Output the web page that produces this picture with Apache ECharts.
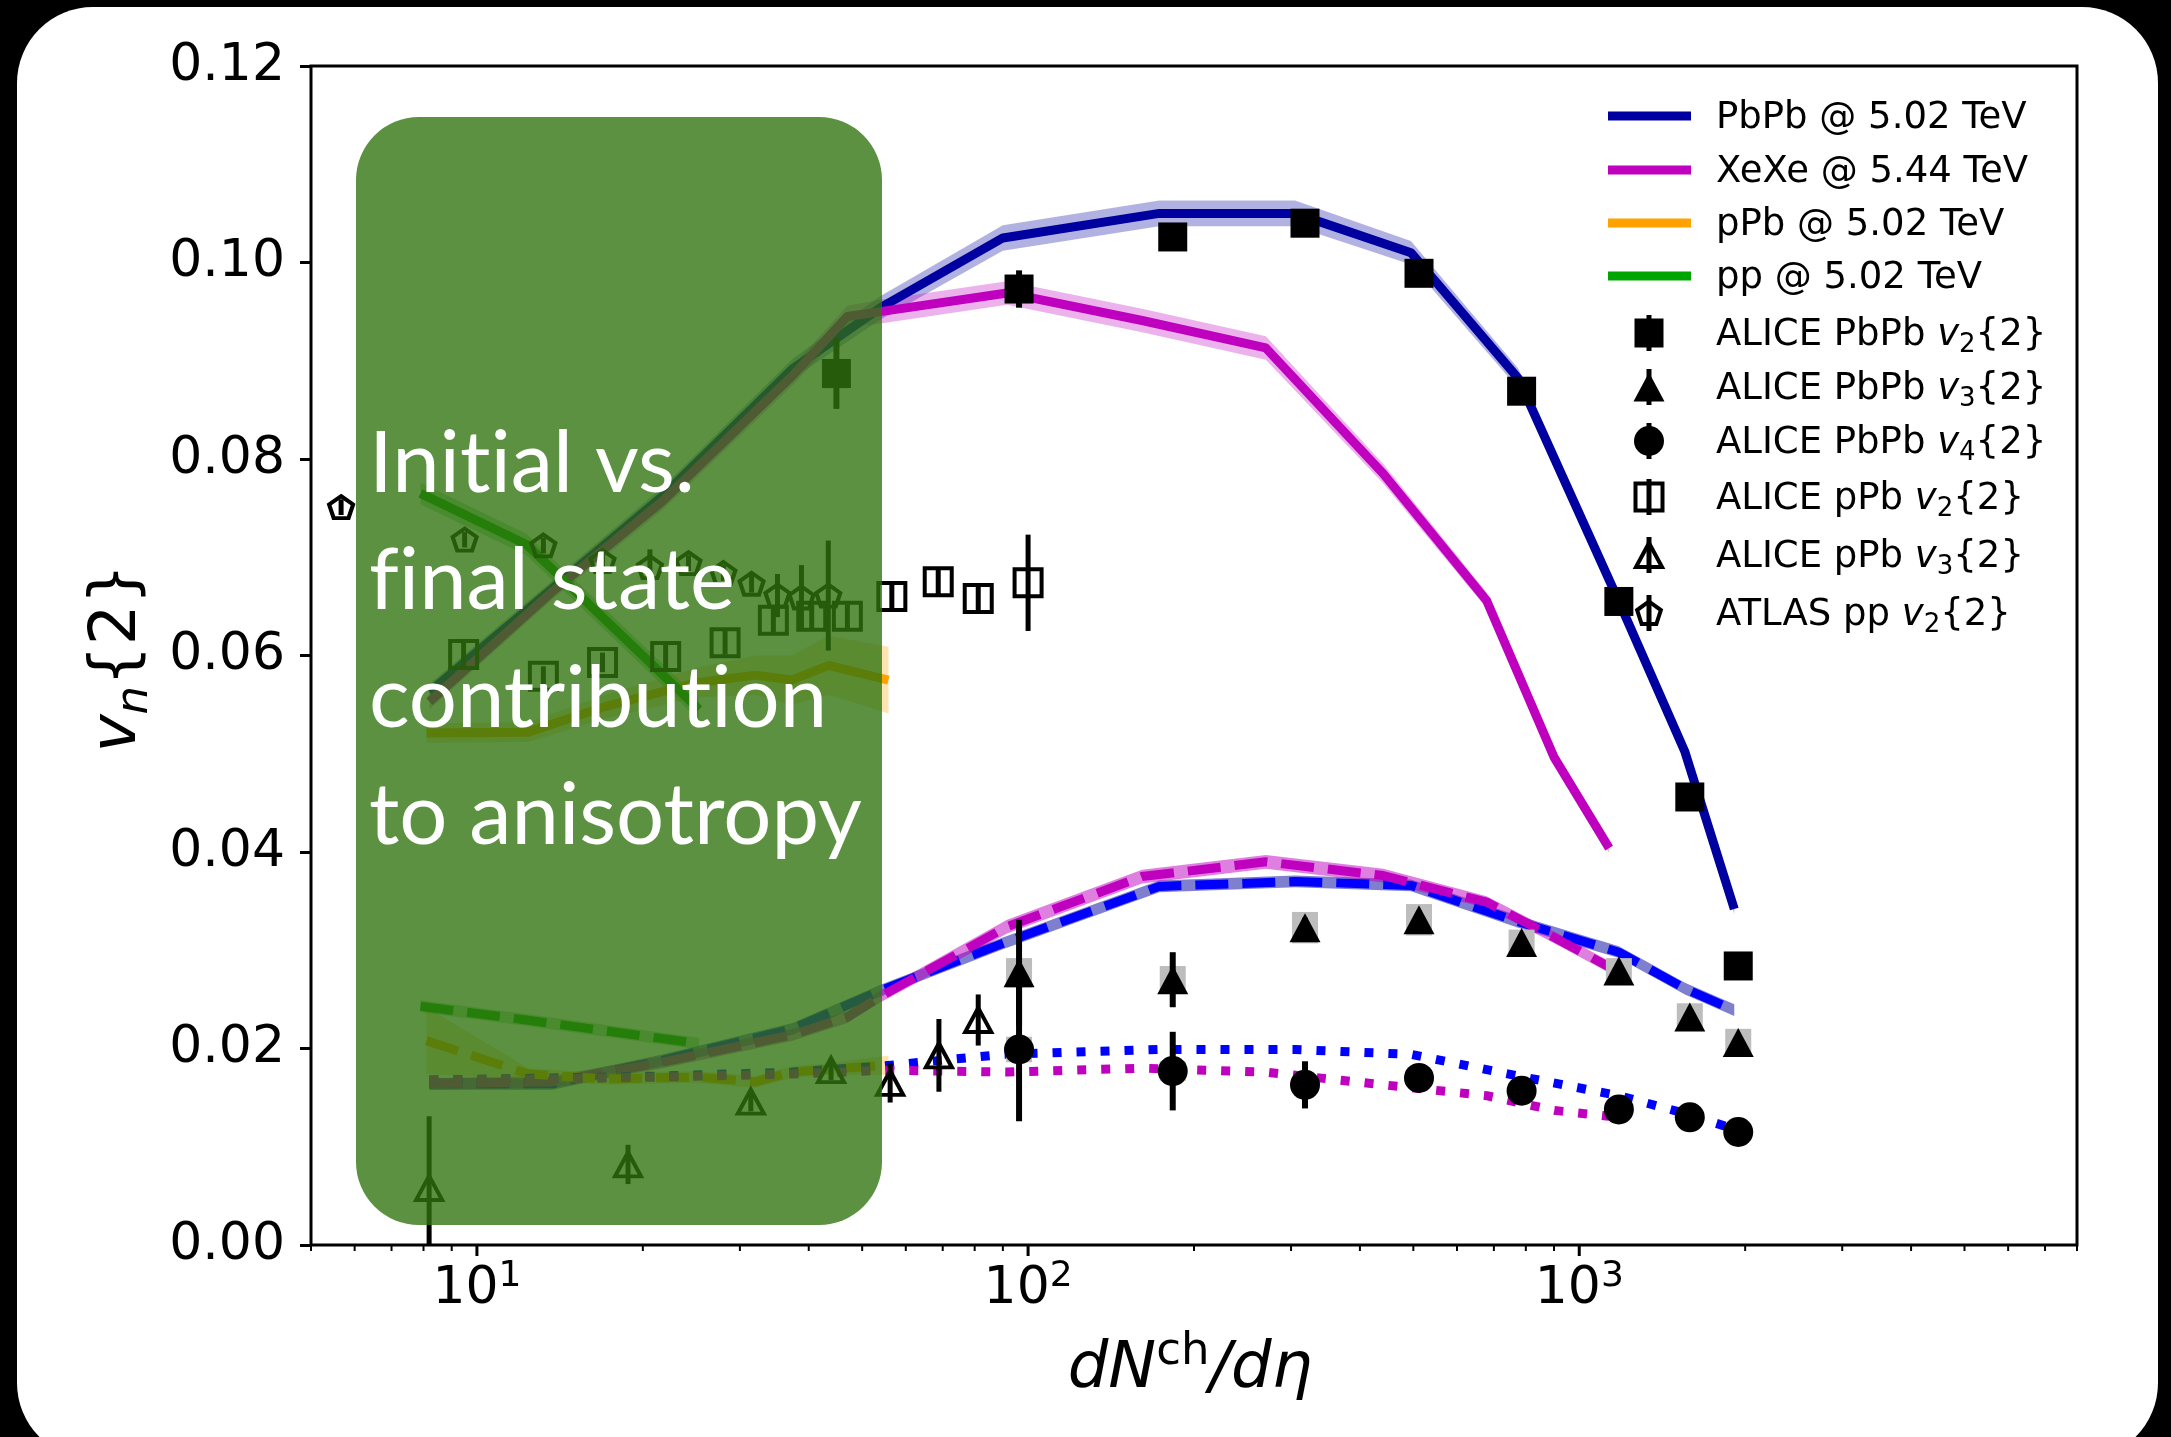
<!DOCTYPE html>
<html>
<head>
<meta charset="utf-8">
<title>Flow harmonics vs multiplicity</title>
<script src="https://cdn.jsdelivr.net/npm/echarts@6/dist/echarts.min.js"></script>
<style>
  html, body { margin: 0; padding: 0; background: #000; width: 2171px; height: 1437px; overflow: hidden; }
  #card { position: absolute; left: 17px; top: 7px; width: 2141px; height: 1452px; background: #fff; border-radius: 76px; }
  #chart { position: absolute; left: 0; top: 0; width: 2171px; height: 1437px; }
</style>
</head>
<body>
<div id="card"></div>
<div id="chart"></div>
<script>
// ---------------- axis ticks ----------------
const xMajorTicks = [10, 100, 1000];
const xMajorExponents = ['1', '2', '3'];
const xMinorTicks = [5, 6, 7, 8, 9, 20, 30, 40, 50, 60, 70, 80, 90,
  200, 300, 400, 500, 600, 700, 800, 900, 2000, 3000, 4000, 5000, 6000, 7000, 8000];

// ---------------- model curves ----------------
const pbpbModelX = [8.2, 13.7, 21.7, 37.4, 54, 90, 173, 305, 495, 775, 1180, 1555, 1911];
const pbpbModelV2 = [0.0563, 0.0668, 0.0762, 0.0892, 0.0954, 0.1025, 0.1050, 0.1050, 0.1010, 0.0882, 0.0655, 0.0502, 0.0342];
const pbpbModelV2Band = [0.0008, 0.0008, 0.0009, 0.0010, 0.0012, 0.0013, 0.0013, 0.0013, 0.0012, 0.0010, 0.0008, 0.0006, 0.0005];
const pbpbModelV3 = [0.0164, 0.0164, 0.0188, 0.0220, 0.0259, 0.0307, 0.0365, 0.0370, 0.0366, 0.0329, 0.0298, 0.0261, 0.0239];
const pbpbModelV3Band = [0.0006, 0.0006, 0.0006, 0.0006, 0.0006, 0.0006, 0.0006, 0.0006, 0.0006, 0.0006, 0.0006, 0.0006, 0.0006];
const pbpbModelV4 = [0.0168, 0.0170, 0.0172, 0.0176, 0.0182, 0.0194, 0.0199, 0.0199, 0.0194, 0.0172, 0.0152, 0.0134, 0.0118];

const xexeModelX = [8.2, 13.7, 21.7, 37.4, 47, 54, 91.6, 161, 270, 441, 679, 901, 1133];
const xexeModelV2 = [0.0553, 0.0665, 0.0757, 0.0885, 0.0945, 0.0950, 0.0969, 0.0941, 0.0913, 0.0785, 0.0656, 0.0496, 0.0404];
const xexeModelV2Band = [0.0008, 0.0008, 0.0009, 0.0010, 0.0011, 0.0012, 0.0012, 0.0012, 0.0012, 0.0010, 0.0008, 0.0006, 0.0005];
const xexeModelV3 = [0.0164, 0.0166, 0.0186, 0.0214, 0.0232, 0.0253, 0.0324, 0.0375, 0.0390, 0.0376, 0.0349, 0.0313, 0.0283];
const xexeModelV3Band = [0.0006, 0.0006, 0.0006, 0.0006, 0.0006, 0.0006, 0.0007, 0.0007, 0.0007, 0.0007, 0.0006, 0.0006, 0.0006];
const xexeModelV4 = [0.0168, 0.0169, 0.0171, 0.0174, 0.0176, 0.0178, 0.0176, 0.0180, 0.0176, 0.0163, 0.0152, 0.0137, 0.0131];

const ppbModelX = [8.1, 12.4, 17.1, 24.9, 32, 37.2, 43.5, 55.8];
const ppbModelV2 = [0.0521, 0.0522, 0.0548, 0.0572, 0.0580, 0.0575, 0.0590, 0.0575];
const ppbModelV2Band = [0.0010, 0.0010, 0.0012, 0.0015, 0.0020, 0.0025, 0.0030, 0.0034];
const ppbModelV3 = [0.0208, 0.0174, 0.0169, 0.0171, 0.0166, 0.0176, 0.0179, 0.0183];
const ppbModelV3Band = [0.0034, 0.0006, 0.0006, 0.0006, 0.0006, 0.0006, 0.0006, 0.0010];

const ppModelX = [7.9, 12.3, 25.3];
const ppModelV2 = [0.0765, 0.0713, 0.0545];
const ppModelV2Band = [0.0011, 0.0011, 0.0011];
const ppModelV3 = [0.0243, 0.0229, 0.0205];
const ppModelV3Band = [0.0006, 0.0006, 0.0006];

// ---------------- measurements ----------------
const alicePbPbV2X = [44.9, 96.3, 183, 318, 512, 786, 1180, 1587, 1943];
const alicePbPbV2 = [0.0887, 0.0973, 0.1026, 0.1040, 0.0989, 0.0869, 0.0655, 0.0456, 0.0284];
const alicePbPbV2Err = [0.0036, 0.0019, 0.0008, 0.0006, 0.0006, 0.0006, 0.0006, 0.0006, 0.0006];
const alicePbPbV2Sys = [0.0015, 0.0012, 0.0010, 0.0010, 0.0009, 0.0008, 0.0007, 0.0006, 0.0005];

const alicePbPbHighX = [96.3, 183, 318, 512, 786, 1180, 1587, 1943];
const alicePbPbV3 = [0.0277, 0.0270, 0.0323, 0.0331, 0.0308, 0.0279, 0.0232, 0.0206];
const alicePbPbV3Err = [0.0054, 0.0028, 0.0010, 0.0006, 0.0005, 0.0004, 0.0004, 0.0004];
const alicePbPbV3Sys = [0.0015, 0.0014, 0.0016, 0.0016, 0.0013, 0.0013, 0.0014, 0.0014];
const alicePbPbV4 = [0.0199, 0.0177, 0.0163, 0.0170, 0.0157, 0.0138, 0.0130, 0.0115];
const alicePbPbV4Err = [0.0073, 0.0040, 0.0024, 0.0006, 0.0005, 0.0004, 0.0004, 0.0004];
const alicePbPbV4Sys = [0.0013, 0.0010, 0.0008, 0.0006, 0.0005, 0.0005, 0.0005, 0.0005];

const alicePPbV2X = [9.46, 13.2, 16.9, 22.0, 28.2, 34.5, 40.5, 47.0, 56.6, 68.7, 81.2, 100];
const alicePPbV2 = [0.0601, 0.0579, 0.0593, 0.0599, 0.0613, 0.0636, 0.0640, 0.0640, 0.0660, 0.0675, 0.0658, 0.0674];
const alicePPbV2Err = [0.0012, 0.0010, 0.0010, 0.0012, 0.0012, 0.0014, 0.0012, 0.0012, 0.0012, 0.0014, 0.0014, 0.0049];

const alicePPbV3X = [8.19, 18.8, 31.4, 43.9, 56.2, 68.9, 81.2];
const alicePPbV3 = [0.0058, 0.0082, 0.0146, 0.0178, 0.0165, 0.0193, 0.0229];
const alicePPbV3Err = [0.0073, 0.0020, 0.0010, 0.0010, 0.0020, 0.0037, 0.0026];

const atlasPPX = [5.67, 9.50, 13.2, 16.9, 20.6, 24.2, 28.0, 31.5, 35.1, 38.8, 43.4];
const atlasPPV2 = [0.0751, 0.0718, 0.0712, 0.0696, 0.0690, 0.0694, 0.0684, 0.0673, 0.0661, 0.0659, 0.0661];
const atlasPPV2Err = [0.0008, 0.0008, 0.0008, 0.0008, 0.0018, 0.0008, 0.0008, 0.0009, 0.0022, 0.0033, 0.0056];

// ---------------- styling ----------------
const FONT = 'DejaVu Sans';
const C_PBPB = '#0000a0';
const C_PBPB_HI = '#0000ff';
const C_XEXE = '#bf00bf';
const C_PPB = '#ffa200';
const C_PP = '#00a500';
const LW = 9;
const DASH = [33, 14];
const DOT = [9, 15];
const PENTAGON = 'path://M0,-10 L9.511,-3.09 L5.878,8.09 L-5.878,8.09 L-9.511,-3.09 Z';

const pairs = (xs, ys) => xs.map((x, i) => [x, ys[i]]);

function band(xs, ys, half, fill) {
  return {
    type: 'custom', silent: true, clip: true, z: 1, animation: false,
    data: xs.map((x, i) => [x, ys[i]]),
    renderItem(params, api) {
      if (params.dataIndex !== 0) return null;
      const up = xs.map((x, i) => api.coord([x, ys[i] + half[i]]));
      const lo = xs.map((x, i) => api.coord([x, ys[i] - half[i]])).reverse();
      return { type: 'polygon', shape: { points: up.concat(lo) }, style: { fill: fill } };
    }
  };
}

function curve(xs, ys, color, dash) {
  return {
    type: 'line', data: pairs(xs, ys), symbol: 'none', showSymbol: false, silent: true,
    z: 2, animation: false,
    lineStyle: { color: color, width: LW, type: dash || 'solid', cap: 'butt', join: 'round', opacity: 1 }
  };
}

function errorBars(xs, ys, errs, width) {
  return {
    type: 'custom', silent: true, clip: true, z: 4, animation: false,
    data: xs.map((x, i) => [x, ys[i], errs[i]]),
    renderItem(params, api) {
      const x = api.value(0), y = api.value(1), e = api.value(2);
      const a = api.coord([x, y + e]), b = api.coord([x, y - e]);
      return { type: 'line', shape: { x1: a[0], y1: a[1], x2: b[0], y2: b[1] },
        style: { stroke: '#000', lineWidth: width } };
    }
  };
}

function sysBoxes(xs, ys, sys) {
  return {
    type: 'custom', silent: true, clip: true, z: 3, animation: false,
    data: xs.map((x, i) => [x, ys[i], sys[i]]),
    renderItem(params, api) {
      const x = api.value(0), y = api.value(1), s = api.value(2);
      const a = api.coord([x, y + s]), b = api.coord([x, y - s]);
      return { type: 'rect', shape: { x: a[0] - 13, y: a[1], width: 26, height: b[1] - a[1] },
        style: { fill: '#bdbdbd' } };
    }
  };
}

function markers(xs, ys, symbol, size, open) {
  return {
    type: 'scatter', data: pairs(xs, ys), symbol: symbol, symbolSize: size,
    silent: true, z: 5, animation: false,
    itemStyle: open
      ? { color: 'rgba(0,0,0,0)', borderColor: '#000', borderWidth: 4, opacity: 1 }
      : { color: '#000', borderWidth: 0, opacity: 1 }
  };
}

const series = [
  // uncertainty bands of the model
  band(pbpbModelX, pbpbModelV2, pbpbModelV2Band, 'rgba(0,0,160,0.3)'),
  band(xexeModelX, xexeModelV2, xexeModelV2Band, 'rgba(191,0,191,0.3)'),
  band(ppbModelX, ppbModelV2, ppbModelV2Band, 'rgba(255,162,0,0.3)'),
  band(ppModelX, ppModelV2, ppModelV2Band, 'rgba(0,165,0,0.3)'),
  band(pbpbModelX, pbpbModelV3, pbpbModelV3Band, 'rgba(0,0,160,0.5)'),
  band(xexeModelX, xexeModelV3, xexeModelV3Band, 'rgba(191,0,191,0.5)'),
  band(ppbModelX, ppbModelV3, ppbModelV3Band, 'rgba(255,162,0,0.3)'),
  band(ppModelX, ppModelV3, ppModelV3Band, 'rgba(0,165,0,0.3)'),
  // model curves: solid v2, dashed v3, dotted v4
  curve(pbpbModelX, pbpbModelV2, C_PBPB),
  curve(xexeModelX, xexeModelV2, C_XEXE),
  curve(ppbModelX, ppbModelV2, C_PPB),
  curve(ppModelX, ppModelV2, C_PP),
  curve(pbpbModelX, pbpbModelV3, C_PBPB_HI, DASH),
  curve(xexeModelX, xexeModelV3, C_XEXE, DASH),
  curve(ppbModelX, ppbModelV3, C_PPB, DASH),
  curve(ppModelX, ppModelV3, C_PP, DASH),
  curve(pbpbModelX, pbpbModelV4, C_PBPB_HI, DOT),
  curve(xexeModelX, xexeModelV4, C_XEXE, DOT),
  // systematic boxes
  sysBoxes(alicePbPbV2X, alicePbPbV2, alicePbPbV2Sys),
  sysBoxes(alicePbPbHighX, alicePbPbV3, alicePbPbV3Sys),
  sysBoxes(alicePbPbHighX, alicePbPbV4, alicePbPbV4Sys),
  // statistical error bars
  errorBars(alicePbPbV2X, alicePbPbV2, alicePbPbV2Err, 6),
  errorBars(alicePbPbHighX, alicePbPbV3, alicePbPbV3Err, 6),
  errorBars(alicePbPbHighX, alicePbPbV4, alicePbPbV4Err, 6),
  errorBars(alicePPbV2X, alicePPbV2, alicePPbV2Err, 5),
  errorBars(alicePPbV3X, alicePPbV3, alicePPbV3Err, 5),
  errorBars(atlasPPX, atlasPPV2, atlasPPV2Err, 5),
  // data markers
  markers(alicePbPbV2X, alicePbPbV2, 'rect', 29, false),
  markers(alicePbPbHighX, alicePbPbV3, 'triangle', [31, 29], false),
  markers(alicePbPbHighX, alicePbPbV4, 'circle', 30, false),
  markers(alicePPbV2X, alicePPbV2, 'rect', 27, true),
  markers(alicePPbV3X, alicePPbV3, 'triangle', [26, 24], true),
  markers(atlasPPX, atlasPPV2, PENTAGON, [24, 22], true),
  // log-axis minor ticks
  {
    type: 'custom', silent: true, clip: false, z: 6, animation: false,
    data: xMinorTicks.map(v => [v, 0]),
    renderItem(params, api) {
      const p = api.coord([api.value(0), 0]);
      return { type: 'line', shape: { x1: p[0], y1: p[1], x2: p[0], y2: p[1] + 6 },
        style: { stroke: '#000', lineWidth: 2 } };
    }
  },
  // log-axis major ticks with 10^n labels
  {
    type: 'custom', silent: true, clip: false, z: 6, animation: false,
    data: xMajorTicks.map(v => [v, 0]),
    renderItem(params, api) {
      const p = api.coord([api.value(0), 0]);
      const exp = xMajorExponents[params.dataIndex];
      return {
        type: 'group',
        children: [
          { type: 'line', shape: { x1: p[0], y1: p[1], x2: p[0], y2: p[1] + 11 },
            style: { stroke: '#000', lineWidth: 3 } },
          { type: 'text', x: p[0], y: p[1] + 14,
            style: {
              text: '{b|10}{s|' + exp + '}', align: 'center', verticalAlign: 'top',
              fill: '#000', fontFamily: FONT, fontSize: 52,
              rich: {
                b: { fontFamily: FONT, fontSize: 52, lineHeight: 60, fill: '#000' },
                s: { fontFamily: FONT, fontSize: 36, lineHeight: 30, verticalAlign: 'top', fill: '#000' }
              }
            } }
        ]
      };
    }
  }
];

// ---------------- legend (drawn as graphics) ----------------
const LEG_ICON_X0 = 1608, LEG_ICON_X1 = 1691, LEG_MARK_X = 1649, LEG_TEXT_X = 1716;
const legendLineRows = [
  { y: 116, color: C_PBPB, text: 'PbPb @ 5.02 TeV' },
  { y: 170, color: C_XEXE, text: 'XeXe @ 5.44 TeV' },
  { y: 223, color: C_PPB, text: 'pPb @ 5.02 TeV' },
  { y: 276, color: C_PP, text: 'pp @ 5.02 TeV' }
];
const legendMarkRows = [
  { y: 333, kind: 'square', text: 'ALICE PbPb {i|v}{sub|2}{2}' },
  { y: 387, kind: 'triangle', text: 'ALICE PbPb {i|v}{sub|3}{2}' },
  { y: 441, kind: 'circle', text: 'ALICE PbPb {i|v}{sub|4}{2}' },
  { y: 497, kind: 'osquare', text: 'ALICE pPb {i|v}{sub|2}{2}' },
  { y: 555, kind: 'otriangle', text: 'ALICE pPb {i|v}{sub|3}{2}' },
  { y: 613, kind: 'pentagon', text: 'ATLAS pp {i|v}{sub|2}{2}' }
];
const legendRich = {
  i: { fontFamily: FONT, fontStyle: 'italic', fontSize: 37, lineHeight: 46, fill: '#000' },
  sub: { fontFamily: FONT, fontSize: 26, lineHeight: 26, verticalAlign: 'bottom', fill: '#000' }
};

function legendText(y, text) {
  return { type: 'text', x: LEG_TEXT_X, y: y + 2, z: 20, silent: true,
    style: { text: text, fill: '#000', fontFamily: FONT, fontSize: 37, lineHeight: 46,
      align: 'left', verticalAlign: 'middle', rich: legendRich } };
}

function legendMarker(kind, cx, cy) {
  const els = [{ type: 'line', z: 20, silent: true,
    shape: { x1: cx, y1: cy - 18, x2: cx, y2: cy + 18 }, style: { stroke: '#000', lineWidth: 5 } }];
  const fillS = { fill: '#000' };
  const openS = { fill: 'none', stroke: '#000', lineWidth: 4 };
  if (kind === 'square') els.push({ type: 'rect', z: 21, silent: true, shape: { x: cx - 14.5, y: cy - 14.5, width: 29, height: 29 }, style: fillS });
  if (kind === 'triangle') els.push({ type: 'polygon', z: 21, silent: true, shape: { points: [[cx, cy - 14.5], [cx + 15.5, cy + 14.5], [cx - 15.5, cy + 14.5]] }, style: fillS });
  if (kind === 'circle') els.push({ type: 'circle', z: 21, silent: true, shape: { cx: cx, cy: cy, r: 15 }, style: fillS });
  if (kind === 'osquare') els.push({ type: 'rect', z: 21, silent: true, shape: { x: cx - 13.5, y: cy - 13.5, width: 27, height: 27 }, style: openS });
  if (kind === 'otriangle') els.push({ type: 'polygon', z: 21, silent: true, shape: { points: [[cx, cy - 12], [cx + 13, cy + 12], [cx - 13, cy + 12]] }, style: openS });
  if (kind === 'pentagon') {
    const pts = [];
    for (let k = 0; k < 5; k++) {
      const ang = -Math.PI / 2 + k * 2 * Math.PI / 5;
      pts.push([cx + 12.5 * Math.cos(ang), cy + 1 + 12.5 * Math.sin(ang)]);
    }
    els.push({ type: 'polygon', z: 21, silent: true, shape: { points: pts }, style: openS });
  }
  return els;
}

const graphics = [];
legendLineRows.forEach(r => {
  graphics.push({ type: 'line', z: 20, silent: true,
    shape: { x1: LEG_ICON_X0, y1: r.y, x2: LEG_ICON_X1, y2: r.y },
    style: { stroke: r.color, lineWidth: LW, lineCap: 'butt' } });
  graphics.push(legendText(r.y, r.text));
});
legendMarkRows.forEach(r => {
  legendMarker(r.kind, LEG_MARK_X, r.y).forEach(e => graphics.push(e));
  graphics.push(legendText(r.y, r.text));
});

// axis titles
graphics.push({ type: 'text', x: 118, y: 658, rotation: Math.PI / 2, z: 20, silent: true,
  style: { text: '{i|v}{sub|n}{2}', fill: '#000', fontFamily: FONT, fontSize: 64, lineHeight: 80,
    align: 'center', verticalAlign: 'middle',
    rich: {
      i: { fontFamily: FONT, fontStyle: 'italic', fontSize: 64, lineHeight: 80, fill: '#000' },
      sub: { fontFamily: FONT, fontStyle: 'italic', fontSize: 45, lineHeight: 44, verticalAlign: 'bottom', fill: '#000' }
    } } });
graphics.push({ type: 'text', x: 1190, y: 1370, z: 20, silent: true,
  style: { text: '{i|dN}{sup|ch}{i|/d\u03b7}', fill: '#000', fontFamily: FONT, fontSize: 64,
    align: 'center', verticalAlign: 'middle',
    rich: {
      i: { fontFamily: FONT, fontStyle: 'italic', fontSize: 64, lineHeight: 80, fill: '#000' },
      sup: { fontFamily: FONT, fontSize: 45, lineHeight: 50, verticalAlign: 'top', fill: '#000' }
    } } });

// highlighted low-multiplicity region with its caption
// (single letters in their own rich token so "fi"/"ti" stay as separate letters)
graphics.push({ type: 'rect', z: 100, silent: true,
  shape: { x: 356, y: 117, width: 526, height: 1108, r: 63 },
  style: { fill: 'rgba(47,116,13,0.79)' } });
const captionFont = { fontFamily: 'Lato', fontSize: 85, fontWeight: 400, fill: '#fff', lineHeight: 100 };
const boxCaption = ['Ini{c|t}ial vs.', '{c|f}inal state', 'contribu{c|t}ion', 'to anisotropy'];
const boxCaptionY = [465, 582, 700, 817];
boxCaption.forEach((t, i) => {
  graphics.push({ type: 'text', x: 369, y: boxCaptionY[i], z: 110, silent: true,
    style: Object.assign({ text: t, align: 'left', verticalAlign: 'middle',
      rich: { c: Object.assign({}, captionFont) } }, captionFont) });
});

const chart = echarts.init(document.getElementById('chart'), null, { renderer: 'canvas', width: 2171, height: 1437 });
chart.setOption({
  animation: false,
  backgroundColor: 'transparent',
  textStyle: { fontFamily: FONT },
  grid: { left: 311, right: 94, top: 66, bottom: 192, show: true, borderColor: '#000', borderWidth: 3,
    backgroundColor: 'transparent', containLabel: false, outerBoundsMode: 'none' },
  xAxis: {
    type: 'log', logBase: 10, min: 5, max: 8000,
    axisLine: { show: false }, axisTick: { show: false }, axisLabel: { show: false },
    splitLine: { show: false }, minorTick: { show: false }, minorSplitLine: { show: false }
  },
  yAxis: {
    type: 'value', min: 0, max: 0.12, interval: 0.02,
    axisLine: { show: false },
    axisTick: { show: true, inside: false, length: 11, lineStyle: { color: '#000', width: 3 } },
    axisLabel: { color: '#000', fontFamily: FONT, fontSize: 52, margin: 26,
      showMinLabel: true, showMaxLabel: true, formatter: v => v.toFixed(2) },
    splitLine: { show: false }
  },
  series: series,
  graphic: { elements: graphics }
});
</script>
</body>
</html>
